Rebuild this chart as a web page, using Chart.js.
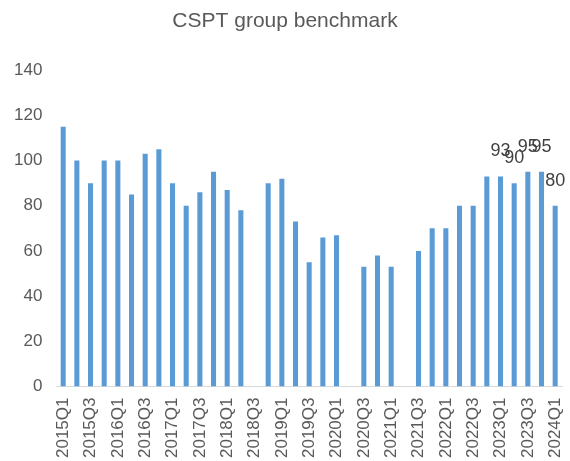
<!DOCTYPE html>
<html>
<head>
<meta charset="utf-8">
<script src="https://cdn.jsdelivr.net/npm/chart.js@4/dist/chart.umd.min.js"></script>
<style>
  html, body { margin: 0; padding: 0; background: #ffffff; }
  #wrap { width: 570px; height: 461px; position: relative; }
</style>
</head>
<body>
<div id="wrap"><canvas id="c"></canvas></div>
<script>
const quarters = [
  "2015Q1","2015Q2","2015Q3","2015Q4",
  "2016Q1","2016Q2","2016Q3","2016Q4",
  "2017Q1","2017Q2","2017Q3","2017Q4",
  "2018Q1","2018Q2","2018Q3","2018Q4",
  "2019Q1","2019Q2","2019Q3","2019Q4",
  "2020Q1","2020Q2","2020Q3","2020Q4",
  "2021Q1","2021Q2","2021Q3","2021Q4",
  "2022Q1","2022Q2","2022Q3","2022Q4",
  "2023Q1","2023Q2","2023Q3","2023Q4",
  "2024Q1"
];
const benchmark = [
  115,100,90,100,
  100,85,103,105,
  90,80,86,95,
  87,78,null,90,
  92,73,55,66,
  67,null,53,58,
  53,null,60,70,
  70,80,80,93,
  93,90,95,95,
  80
];
const labeledQuarters = ["2023Q1","2023Q2","2023Q3","2023Q4","2024Q1"];
const yTicks = [0,20,40,60,80,100,120,140];

const FONT = "'Liberation Sans', Arial, sans-serif";
const TXT = "#595959";

const labelPlugin = {
  id: 'someLabels',
  afterDatasetsDraw(chart) {
    const ctx = chart.ctx;
    const meta = chart.getDatasetMeta(0);
    ctx.save();
    ctx.font = "18px " + FONT;
    ctx.fillStyle = "#404040";
    ctx.textAlign = "center";
    ctx.textBaseline = "bottom";
    meta.data.forEach((bar, i) => {
      if (!labeledQuarters.includes(quarters[i])) return;
      const v = benchmark[i];
      if (v == null) return;
      ctx.fillText(String(v), bar.x, bar.y - 16);
    });
    ctx.restore();
  }
};

new Chart(document.getElementById('c'), {
  type: 'bar',
  data: {
    labels: quarters,
    datasets: [{
      label: 'CSPT group benchmark',
      data: benchmark,
      backgroundColor: '#5B9BD5',
      borderWidth: 0,
      categoryPercentage: 1.0,
      barPercentage: 0.37
    }]
  },
  options: {
    responsive: true,
    maintainAspectRatio: false,
    animation: false,
    layout: { padding: { left: 8, right: 8, top: 0, bottom: 0 } },
    plugins: {
      legend: { display: false },
      tooltip: { enabled: false },
      title: {
        display: true,
        text: 'CSPT group benchmark',
        color: TXT,
        font: { family: FONT, size: 21, weight: 'normal' },
        padding: { top: 9, bottom: 36 }
      }
    },
    scales: {
      x: {
        grid: { display: false },
        border: { display: true, color: '#D9D9D9', width: 1 },
        afterFit: (scale) => { scale.paddingRight = 0; },
        ticks: {
          autoSkip: false,
          maxRotation: 90,
          minRotation: 90,
          color: TXT,
          font: { family: FONT, size: 17 },
          padding: 3,
          callback: function(val, idx) { return idx % 2 === 0 ? quarters[idx] : ''; }
        }
      },
      y: {
        min: 0,
        max: 140,
        grid: { display: false },
        border: { display: false },
        afterBuildTicks: (axis) => { axis.ticks = yTicks.map(v => ({ value: v })); },
        ticks: {
          color: TXT,
          font: { family: FONT, size: 17 },
          padding: 6
        }
      }
    }
  },
  plugins: [labelPlugin]
});
</script>
</body>
</html>
